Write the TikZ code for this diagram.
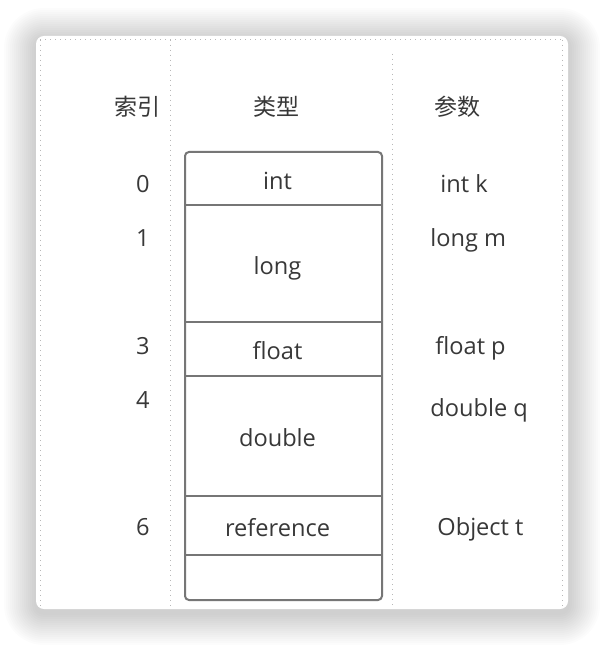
\documentclass[tikz,border=0pt]{standalone}
\usepackage{fontspec}
\setmainfont{Open Sans}
\newfontfamily\cjk{Noto Sans CJK SC}
\usetikzlibrary{positioning}
\definecolor{txtgray}{HTML}{383838}
\definecolor{boxgray}{HTML}{767676}
\definecolor{dotgray}{HTML}{B8B8B8}
\tikzset{
head/.style={
  text=txtgray,
  font=\cjk\fontsize{11.5}{13}\selectfont,
  anchor=base,
  inner sep=0pt},
idx/.style={
  text=txtgray,
  font=\fontsize{11.8}{13}\selectfont,
  anchor=base east,
  inner sep=0pt},
param/.style={
  text=txtgray,
  font=\fontsize{11.8}{13}\selectfont,
  anchor=base west,
  inner sep=0pt},
cell/.style={
  minimum width=98.5pt,
  inner sep=0pt,
  outer sep=0pt,
  text=txtgray,
  font=\fontsize{11.8}{13}\selectfont,
  text height=2ex,
  text depth=0ex,
  execute at end node={\hspace*{6pt}}},
sep/.style={draw=boxgray, line width=1pt},
guide/.style={draw=dotgray, dotted, line width=0.5pt}
}
\begin{document}
\begin{tikzpicture}[x=0.5pt, y=-0.5pt]
    \useasboundingbox (0,0) rectangle (604,646);
    \foreach \i [evaluate=\i as \r using 4+\i] in {1,...,16}
      \fill[black, opacity=0.010, rounded corners=\r pt] ({36-2*\i},{40-2*\i}) rectangle ({568+2*\i},{613+2*\i});
    \fill[white, rounded corners=4pt] (36,36) rectangle (568,609);
    \draw[guide] (40,40) -- (562,40);
    \draw[guide] (40,40) -- (40,607);
    \draw[guide] (170,40) -- (170,607);
    \draw[guide] (392,54) -- (392,607);
    \draw[guide] (562,40) -- (562,607);
    \node[head] (hidx) at (137,116) {索引};
    \node[head] (htype) at (276,116) {类型};
    \node[head] (hparam) at (457,116) {参数};
    \node[cell, minimum height=26.5pt, anchor=north] (int) at (283.5,152) {int};
    \node[cell, minimum height=58.5pt, below=0pt of int] (long) {long};
    \node[cell, minimum height=27pt, below=0pt of long] (float) {float};
    \node[cell, minimum height=60pt, below=0pt of float] (double) {double};
    \node[cell, minimum height=29.5pt, below=0pt of double] (ref) {reference};
    \node[cell, minimum height=22.5pt, below=0pt of ref] (blank) {};
    \draw[sep, rounded corners=2pt] (int.north west) rectangle (blank.south east);
    \foreach \c in {long,float,double,ref,blank}
      \path[sep] (\c.north west) -- (\c.north east);
    \node[idx] (i0) at (150,193) {0};
    \node[idx] (i1) at (150,247) {1};
    \node[idx] (i3) at (150,354) {3};
    \node[idx] (i4) at (150,408) {4};
    \node[idx] (i6) at (150,535) {6};
    \node[param] (pk) at (440,193) {int k};
    \node[param] (pm) at (430,247) {long m};
    \node[param] (pp) at (435,354) {float p};
    \node[param] (pq) at (430,416) {double q};
    \node[param] (pt) at (437,535) {Object t};
\end{tikzpicture}
\end{document}
